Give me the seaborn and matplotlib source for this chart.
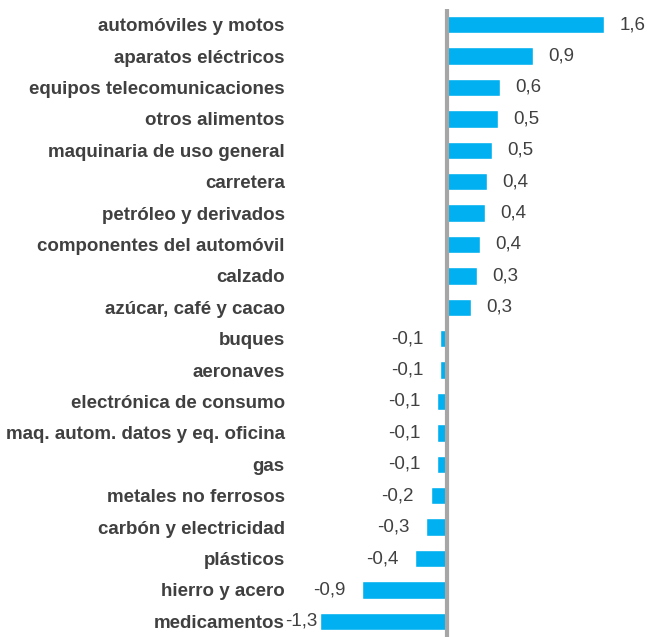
import matplotlib
matplotlib.use("Agg")
import matplotlib.pyplot as plt
import seaborn as sns

# categories, top to bottom
categories = [
    "automóviles y motos", "aparatos eléctricos", "equipos telecomunicaciones",
    "otros alimentos", "maquinaria de uso general", "carretera",
    "petróleo y derivados", "componentes del automóvil", "calzado",
    "azúcar, café y cacao", "buques", "aeronaves", "electrónica de consumo",
    "maq. autom. datos y eq. oficina", "gas", "metales no ferrosos",
    "carbón y electricidad", "plásticos", "hierro y acero", "medicamentos",
]
# bar lengths
values = [1.61, 0.88, 0.54, 0.52, 0.46, 0.41, 0.39, 0.34, 0.31, 0.24,
          -0.07, -0.07, -0.10, -0.10, -0.10, -0.17, -0.22, -0.33, -0.87, -1.30]
# data labels as printed
value_labels = ["1,6", "0,9", "0,6", "0,5", "0,5", "0,4", "0,4", "0,4", "0,3", "0,3",
                "-0,1", "-0,1", "-0,1", "-0,1", "-0,1", "-0,2", "-0,3", "-0,4", "-0,9", "-1,3"]

sns.set_style("white")
plt.rcParams["font.family"] = ["Liberation Sans", "DejaVu Sans"]

text_col = "#404040"
bar_col = "#00B0F0"

fig = plt.figure(figsize=(6.65, 6.37), dpi=100)
ax = fig.add_axes([293 / 665, 0.0, 360 / 665, 1 - 9 / 637])

sns.barplot(x=values, y=categories, color=bar_col, width=0.55, orient="h", ax=ax,
            saturation=1)

ax.set_xlim(-1.58, 2.11)
ax.set_ylim(len(categories) - 0.5, -0.5)
ax.axvline(0, color="#A6A6A6", lw=3, zorder=5)

for s in ax.spines.values():
    s.set_visible(False)
ax.set_xticks([])
ax.tick_params(axis="y", length=0, pad=6)
for t in ax.get_yticklabels():
    t.set_fontweight("bold")
    t.set_fontsize(13.5)
    t.set_color(text_col)

for i, (v, lab) in enumerate(zip(values, value_labels)):
    if v >= 0:
        ax.annotate(lab, (v, i), xytext=(11, 0), textcoords="offset points",
                    ha="left", va="center", fontsize=13.5, color=text_col)
    else:
        off = -12 if v > -1.2 else -2
        ax.annotate(lab, (v, i), xytext=(off, 0), textcoords="offset points",
                    ha="right", va="center", fontsize=13.5, color=text_col)

ax.set_xlabel("")
ax.set_ylabel("")
fig.savefig("out.png", dpi=100)
